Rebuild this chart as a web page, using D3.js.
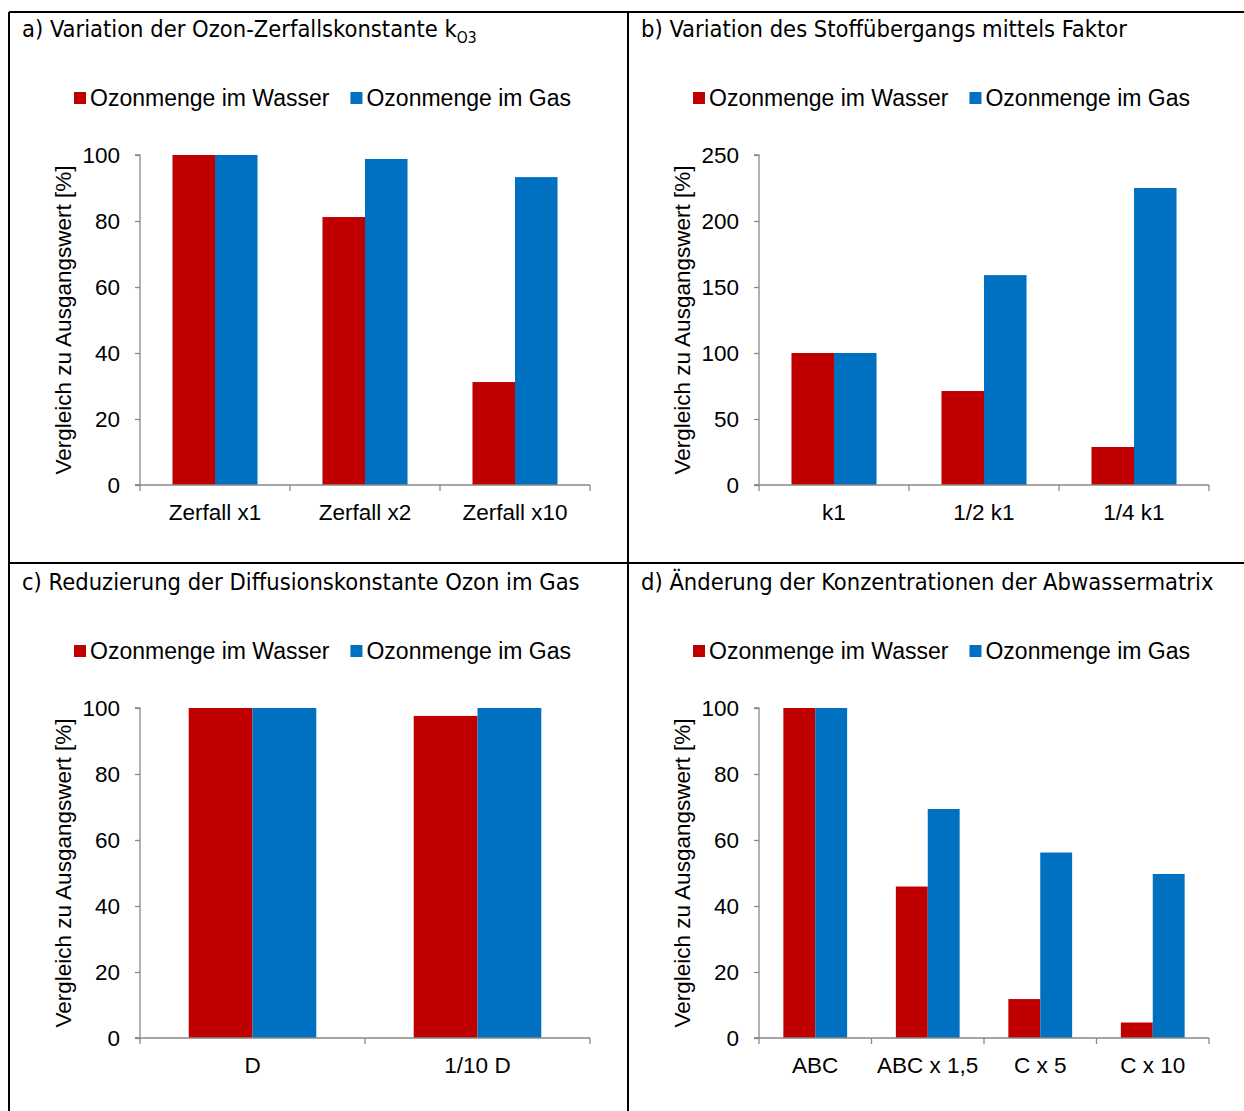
<!DOCTYPE html>
<html>
<head>
<meta charset="utf-8">
<script src="https://cdn.jsdelivr.net/npm/d3@7"></script>
<style>
  html, body { margin: 0; padding: 0; background: #fff; }
  svg text { font-family: "Liberation Sans", Arial, sans-serif; fill: #000; }
  .title { font-family: "DejaVu Sans Condensed", "Liberation Sans", sans-serif; }
</style>
</head>
<body>
<svg id="chart"></svg>
<script>
// ── Data ─────────────────────────────────────────────────────────
const seriesNames = ['Ozonmenge im Wasser', 'Ozonmenge im Gas'];
const seriesColors = ['#C00000', '#0070C0'];

const catsA   = ['Zerfall x1', 'Zerfall x2', 'Zerfall x10'];
const wasserA = [100, 81.2, 31.2];
const gasA    = [100, 98.8, 93.3];

const catsB   = ['k1', '1/2 k1', '1/4 k1'];
const wasserB = [100, 71.2, 28.8];
const gasB    = [100, 159, 225];

const catsC   = ['D', '1/10 D'];
const wasserC = [100, 97.6];
const gasC    = [100, 100];

const catsD   = ['ABC', 'ABC x 1,5', 'C x 5', 'C x 10'];
const wasserD = [100, 45.9, 11.8, 4.7];
const gasD    = [100, 69.4, 56.2, 49.7];

const yMaxes  = [100, 250, 100, 100];
const yTicks  = [20, 50, 20, 20];

const panels = [
  { title: 'a) Variation der Ozon-Zerfallskonstante k', sub: 'O3', cats: catsA, vals: [wasserA, gasA] },
  { title: 'b) Variation des Stoffübergangs mittels Faktor', cats: catsB, vals: [wasserB, gasB] },
  { title: 'c) Reduzierung der Diffusionskonstante Ozon im Gas', cats: catsC, vals: [wasserC, gasC] },
  { title: 'd) Änderung der Konzentrationen der Abwassermatrix', cats: catsD, vals: [wasserD, gasD] },
];

// ── Layout ───────────────────────────────────────────────────────
const W = 1244, H = 1111;
const colX = [9, 628];
const rowY = [12, 565];
const plotLeft = 131, plotW = 450, plotTop = 143, plotH = 330;
const axisColor = '#898989';
const fs = 22.5;

const svg = d3.select('#chart').attr('width', W).attr('height', H);

// frame lines
const frame = svg.append('g').attr('stroke', '#000').attr('stroke-width', 2);
frame.append('line').attr('x1', 9).attr('x2', 9).attr('y1', 12).attr('y2', H);
frame.append('line').attr('x1', 9).attr('x2', W).attr('y1', 12).attr('y2', 12);
frame.append('line').attr('x1', 628).attr('x2', 628).attr('y1', 12).attr('y2', H);
frame.append('line').attr('x1', 9).attr('x2', W).attr('y1', 563).attr('y2', 563);

panels.forEach((p, i) => {
  const ox = colX[i % 2], oy = rowY[Math.floor(i / 2)];
  const g = svg.append('g').attr('transform', `translate(${ox},${oy})`);

  // title
  const t = g.append('text').attr('class', 'title')
    .attr('x', 13).attr('y', 25).attr('font-size', 23.5).text(p.title);
  if (p.sub) {
    t.append('tspan').attr('dy', 6).attr('font-size', 15.5).text(p.sub);
  }

  // legend
  const leg = g.append('g').attr('transform', `translate(65,${86})`);
  let lx = 0;
  seriesNames.forEach((name, k) => {
    leg.append('rect').attr('x', lx).attr('y', -6).attr('width', 12).attr('height', 12)
      .attr('fill', seriesColors[k]);
    const txt = leg.append('text').attr('x', lx + 16).attr('y', 8)
      .attr('font-size', 23).text(name);
    lx += 16 + txt.node().getComputedTextLength() + 21;
  });

  // scales
  const plot = g.append('g').attr('transform', `translate(${plotLeft},${plotTop})`);
  const y = d3.scaleLinear().domain([0, yMaxes[i]]).range([plotH, 0]);
  const x0 = d3.scaleBand().domain(p.cats).range([0, plotW]).padding(0);
  const gapFrac = 0.433;
  const x1 = d3.scaleBand().domain(seriesNames)
    .range([x0.bandwidth() * gapFrac / 2, x0.bandwidth() * (1 - gapFrac / 2)]).padding(0);

  // bars
  p.cats.forEach((c, ci) => {
    seriesNames.forEach((s, si) => {
      const v = p.vals[si][ci];
      plot.append('rect')
        .attr('x', x0(c) + x1(s)).attr('width', x1.bandwidth())
        .attr('y', y(v)).attr('height', plotH - y(v))
        .attr('fill', seriesColors[si]);
    });
  });

  // y axis
  const yAxis = d3.axisLeft(y).tickValues(d3.range(0, yMaxes[i] + 1, yTicks[i]))
    .tickSize(5).tickPadding(15);
  const ya = plot.append('g').call(yAxis);
  ya.select('.domain').attr('stroke', axisColor).attr('stroke-width', 1.3).attr('d', `M-5,${plotH}H0V0H-5`);
  ya.selectAll('.tick line').attr('stroke', axisColor).attr('stroke-width', 1.3);
  ya.selectAll('.tick text').attr('font-size', fs).attr('fill', '#000')
    .attr('font-family', '"Liberation Sans", Arial, sans-serif');

  // x axis: ticks at category boundaries
  const xa = plot.append('g').attr('transform', `translate(0,${plotH})`);
  xa.append('line').attr('x1', -5).attr('x2', plotW).attr('y1', 0).attr('y2', 0)
    .attr('stroke', axisColor).attr('stroke-width', 1.3);
  const bounds = p.cats.map(c => x0(c)).concat([plotW]);
  xa.selectAll('.xt').data(bounds).join('line').attr('class', 'xt')
    .attr('x1', d => d).attr('x2', d => d).attr('y1', 0).attr('y2', 6)
    .attr('stroke', axisColor).attr('stroke-width', 1.3);
  xa.selectAll('.xl').data(p.cats).join('text').attr('class', 'xl')
    .attr('x', d => x0(d) + x0.bandwidth() / 2).attr('y', 35)
    .attr('text-anchor', 'middle').attr('font-size', fs).text(d => d);

  // y axis title
  g.append('text')
    .attr('transform', `translate(62,${plotTop + plotH / 2}) rotate(-90)`)
    .attr('text-anchor', 'middle').attr('font-size', fs)
    .text('Vergleich zu Ausgangswert [%]');
});
</script>
</body>
</html>
